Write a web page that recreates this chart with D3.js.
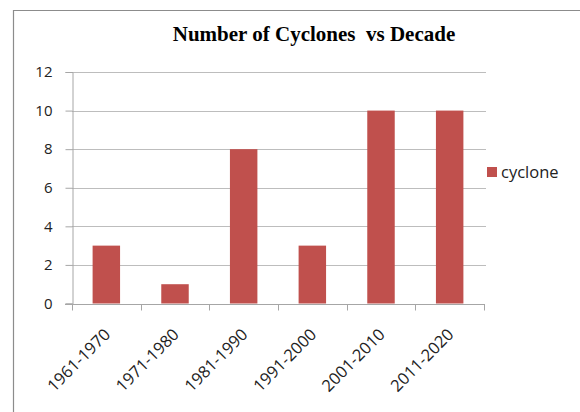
<!DOCTYPE html>
<html>
<head>
<meta charset="utf-8">
<script src="https://cdn.jsdelivr.net/npm/d3@7/dist/d3.min.js"></script>
<style>
  html, body { margin: 0; padding: 0; background: #fff; }
  svg { display: block; }
</style>
</head>
<body>
<script>
// Cyclone counts per decade
const decades = ["1961-1970", "1971-1980", "1981-1990", "1991-2000", "2001-2010", "2011-2020"];
const cyclones = [3, 1, 8, 3, 10, 10];
const yTicks = [0, 2, 4, 6, 8, 10, 12];
const seriesName = "cyclone";
const chartTitle = "Number of Cyclones  vs Decade";

const W = 580, H = 412;
const plot = { left: 72, right: 484, top: 72, bottom: 303.5 };
const barColor = "#C0504D";
const labelFont = "Open Sans, Liberation Sans, sans-serif";

const svg = d3.select("body").append("svg")
  .attr("width", W).attr("height", H);

// chart frame
svg.append("path")
  .attr("d", `M13.5,${H} L13.5,10.5 L${W},10.5`)
  .attr("fill", "none").attr("stroke", "#8c8c8c").attr("stroke-width", 1.2);

const x = d3.scaleBand().domain(decades).range([plot.left, plot.right]).paddingInner(0.6).paddingOuter(0.3);
const y = d3.scaleLinear().domain([0, 12]).range([plot.bottom, plot.top]);

// gridlines
svg.append("g").selectAll("line").data(yTicks.filter(d => d > 0)).join("line")
  .attr("x1", plot.left).attr("x2", plot.right + 2)
  .attr("y1", d => Math.round(y(d)) + 0.5).attr("y2", d => Math.round(y(d)) + 0.5)
  .attr("stroke", "#bdbdbd").attr("stroke-width", 1);

// y axis
const yAxis = d3.axisLeft(y).tickValues(yTicks).tickSize(7).tickPadding(13);
const gy = svg.append("g").attr("transform", `translate(${plot.left + 0.5},0)`).call(yAxis);
gy.select(".domain").attr("stroke", "#a6a6a6");
gy.selectAll(".tick line").attr("stroke", "#a6a6a6");
gy.selectAll(".tick text")
  .attr("font-family", labelFont).attr("font-size", 15).attr("fill", "#222");

// bars
svg.append("g").selectAll("rect").data(decades).join("rect")
  .attr("x", d => x(d))
  .attr("width", x.bandwidth())
  .attr("y", (d, i) => y(cyclones[i]))
  .attr("height", (d, i) => y(0) - y(cyclones[i]))
  .attr("fill", barColor);

// x axis with ticks at category boundaries
const xPos = d3.scalePoint().domain(d3.range(decades.length + 1)).range([plot.left, plot.right]);
const gx = svg.append("g").attr("transform", `translate(0,${Math.round(plot.bottom) + 0.5})`);
gx.append("line").attr("x1", plot.left - 7).attr("x2", plot.right + 1)
  .attr("stroke", "#a6a6a6");
gx.selectAll("line.tk").data(xPos.domain()).join("line").attr("class", "tk")
  .attr("x1", d => Math.round(xPos(d)) + 0.5).attr("x2", d => Math.round(xPos(d)) + 0.5)
  .attr("y1", 0).attr("y2", 6).attr("stroke", "#a6a6a6");

// rotated category labels
svg.append("g").selectAll("text").data(decades).join("text")
  .attr("transform", d => `translate(${x(d) + x.bandwidth() / 2 + 5},${plot.bottom + 32}) rotate(-45)`)
  .attr("text-anchor", "end")
  .attr("font-family", labelFont).attr("font-size", 16.5).attr("fill", "#222")
  .text(d => d);

// title
svg.append("text")
  .attr("x", 314).attr("y", 41)
  .attr("text-anchor", "middle")
  .attr("font-family", "Liberation Serif, Times New Roman, serif")
  .attr("font-weight", "bold").attr("font-size", 21)
  .attr("xml:space", "preserve")
  .style("white-space", "pre")
  .text(chartTitle);

// legend
const lg = svg.append("g").attr("transform", "translate(487,167)");
lg.append("rect").attr("width", 10).attr("height", 10).attr("fill", barColor);
lg.append("text").attr("x", 14).attr("y", 10.5)
  .attr("font-family", labelFont).attr("font-size", 16.5).attr("fill", "#222")
  .text(seriesName);
</script>
</body>
</html>
